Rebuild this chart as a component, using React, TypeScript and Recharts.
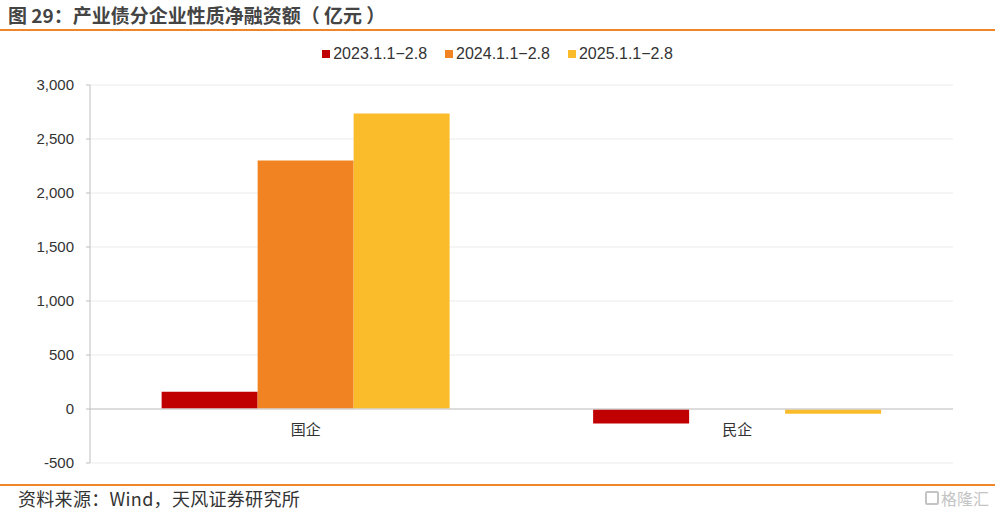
import React from 'react'
import {
  BarChart,
  Bar,
  XAxis,
  YAxis,
  CartesianGrid,
  ReferenceLine,
} from 'recharts'

// data (亿元)
const categories = ['国企', '民企']
const series2023 = [160, -135]
const series2024 = [2300, 0]
const series2025 = [2735, -45]
const seriesNames = ['2023.1.1−2.8', '2024.1.1−2.8', '2025.1.1−2.8']
const seriesColors = ['#c00000', '#f28322', '#fbbc2c']
const yTicks = [-500, 0, 500, 1000, 1500, 2000, 2500, 3000]

const W = 995
const H = 510
const TOP = 85
const BOTTOM = 463
const Y_MIN = -500
const Y_MAX = 3000

const data = categories.map((name, i) => ({
  name,
  s0: series2023[i],
  s1: series2024[i],
  s2: series2025[i],
}))

const latin = '"Liberation Sans", Arial, "Noto Sans CJK SC", sans-serif'
const cjk = '"Noto Sans CJK SC", "Liberation Sans", sans-serif'

// category labels sit on the zero line, like the Excel original
const zeroShift = ((BOTTOM - TOP) * (0 - Y_MIN)) / (Y_MAX - Y_MIN)

function CategoryTick(props: any) {
  const { x, y, payload } = props
  return (
    <text
      x={x}
      y={y - zeroShift + 26}
      textAnchor="middle"
      fill="#333"
      fontSize={15}
      fontFamily={cjk}
    >
      {payload.value}
    </text>
  )
}

export default function App() {
  return (
    <div
      style={{
        position: 'absolute',
        left: 0,
        top: 0,
        width: W,
        height: H,
        background: '#fff',
        overflow: 'hidden',
      }}
    >
      <div
        style={{
          position: 'absolute',
          left: 8,
          top: 2,
          fontFamily: cjk,
          fontWeight: 700,
          fontSize: 19,
          color: '#444',
          lineHeight: '26px',
          whiteSpace: 'nowrap',
        }}
      >
        图 29：产业债分企业性质净融资额（ 亿元 ）
      </div>
      <div
        style={{
          position: 'absolute',
          left: 0,
          top: 29,
          width: W,
          height: 2,
          background: '#f0862a',
        }}
      />

      {/* legend */}
      <div
        style={{
          position: 'absolute',
          left: 0,
          top: 44,
          width: W,
          display: 'flex',
          justifyContent: 'center',
          gap: 18,
          fontFamily: latin,
          fontSize: 16,
          color: '#333',
          lineHeight: '20px',
        }}
      >
        {seriesNames.map((n, i) => (
          <div key={n} style={{ display: 'flex', alignItems: 'center' }}>
            <span
              style={{
                display: 'inline-block',
                width: 8,
                height: 8,
                background: seriesColors[i],
                marginRight: 3,
              }}
            />
            {n}
          </div>
        ))}
      </div>

      <div style={{ position: 'absolute', left: 0, top: 0 }}>
        <BarChart
          width={W}
          height={H}
          data={data}
          margin={{ top: TOP, right: 42, bottom: H - BOTTOM - 30, left: 0 }}
          barCategoryGap="16.6%"
          barGap={0}
        >
          <CartesianGrid vertical={false} stroke="#ebebeb" />
          <XAxis
            dataKey="name"
            height={30}
            axisLine={false}
            tickLine={false}
            tickSize={0}
            tickMargin={0}
            tick={<CategoryTick />}
            interval={0}
          />
          <YAxis
            width={90}
            domain={[Y_MIN, Y_MAX]}
            ticks={yTicks}
            interval={0}
            axisLine={{ stroke: '#bfbfbf' }}
            tickLine={{ stroke: '#bfbfbf' }}
            tickSize={4}
            tickMargin={12}
            tick={{ fill: '#333', fontSize: 15, fontFamily: latin }}
            tickFormatter={(v: number) => v.toLocaleString('en-US')}
          />
          <ReferenceLine y={0} stroke="#d4d4d4" strokeWidth={1.5} />
          <Bar dataKey="s0" name={seriesNames[0]} fill={seriesColors[0]} isAnimationActive={false} />
          <Bar dataKey="s1" name={seriesNames[1]} fill={seriesColors[1]} isAnimationActive={false} />
          <Bar dataKey="s2" name={seriesNames[2]} fill={seriesColors[2]} isAnimationActive={false} />
        </BarChart>
      </div>

      <div
        style={{
          position: 'absolute',
          left: 0,
          top: 484,
          width: W,
          height: 2,
          background: '#f0862a',
        }}
      />
      <div
        style={{
          position: 'absolute',
          left: 18,
          top: 487,
          fontFamily: cjk,
          fontSize: 18,
          letterSpacing: 0.3,
          color: '#333',
          lineHeight: '22px',
          whiteSpace: 'nowrap',
        }}
      >
        资料来源：Wind，天风证券研究所
      </div>
      <div
        style={{
          position: 'absolute',
          right: 6,
          top: 489,
          fontFamily: cjk,
          fontSize: 16,
          color: '#c4c4c4',
          lineHeight: '18px',
          display: 'flex',
          alignItems: 'center',
          gap: 2,
        }}
      >
        <span
          style={{
            display: 'inline-block',
            width: 14,
            height: 14,
            border: '2px solid #c4c4c4',
            borderRadius: 2,
            boxSizing: 'border-box',
          }}
        />
        格隆汇
      </div>
    </div>
  )
}
